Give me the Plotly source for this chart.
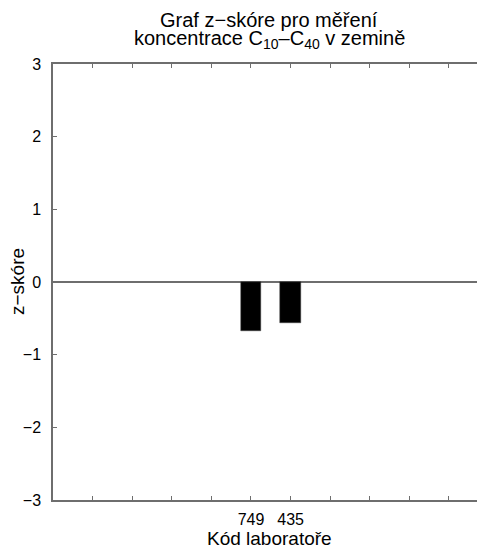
import plotly.graph_objects as go

labs = ["749", "435"]
zscores = [-0.68, -0.56]
first_pos = 0  # position of the first lab on the numeric x axis
positions = [first_pos + i for i in range(len(labs))]

FONT = "Liberation Sans, Arial, Helvetica, sans-serif"
AX = "#6e6e6e"

fig = go.Figure()
fig.add_trace(go.Bar(
    x=positions, y=zscores, width=0.52,
    marker=dict(color="black", line=dict(color="#444", width=0.5)),
    showlegend=False,
))

fig.update_layout(
    width=477, height=541,
    margin=dict(l=45, r=0, t=56, b=49, autoexpand=False),
    paper_bgcolor="white", plot_bgcolor="white",
    font=dict(family=FONT, size=16, color="black"),
    bargap=0,
    annotations=[
        dict(text="Graf z−skóre pro měření",
             x=0.5, xref="paper", xanchor="center",
             y=1, yref="paper", yanchor="middle", yshift=44,
             showarrow=False, font=dict(family=FONT, size=20, color="black")),
        dict(text="koncentrace C<sub>10</sub>–C<sub>40</sub> v zemině",
             x=0.5, xref="paper", xanchor="center",
             y=1, yref="paper", yanchor="middle", yshift=25,
             showarrow=False, font=dict(family=FONT, size=20, color="black")),
        dict(text="Kód laboratoře",
             x=0.5, xref="paper", xanchor="center",
             y=0, yref="paper", yanchor="top", yshift=-26,
             showarrow=False, font=dict(family=FONT, size=19, color="black")),
        dict(text="z−skóre", textangle=-90,
             x=0, xref="paper", xanchor="center", xshift=-36,
             y=0.5, yref="paper", yanchor="middle",
             showarrow=False, font=dict(family=FONT, size=19, color="black")),
    ],
)

fig.update_xaxes(
    range=[-5, 5.91], automargin=False,
    tickvals=positions, ticktext=labs,
    ticks="inside", ticklen=4, tickcolor=AX, tickwidth=1.2,
    minor=dict(dtick=1, tick0=0, ticks="inside", ticklen=4, tickcolor=AX, tickwidth=1.2),
    showline=True, linecolor=AX, linewidth=1.5, mirror="ticks",
    showgrid=False, zeroline=False,
    ticklabelstandoff=4,
    tickfont=dict(family=FONT, size=16),
)
fig.update_yaxes(
    range=[-3, 3], dtick=1, tick0=0, automargin=False,
    ticks="inside", ticklen=4, tickcolor=AX, tickwidth=1.2,
    showline=True, linecolor=AX, linewidth=1.5, mirror=False,
    showgrid=False, zeroline=True, zerolinecolor=AX, zerolinewidth=1.5,
    ticklabelstandoff=7,
    tickfont=dict(family=FONT, size=16),
)

fig.write_html("out.html")
